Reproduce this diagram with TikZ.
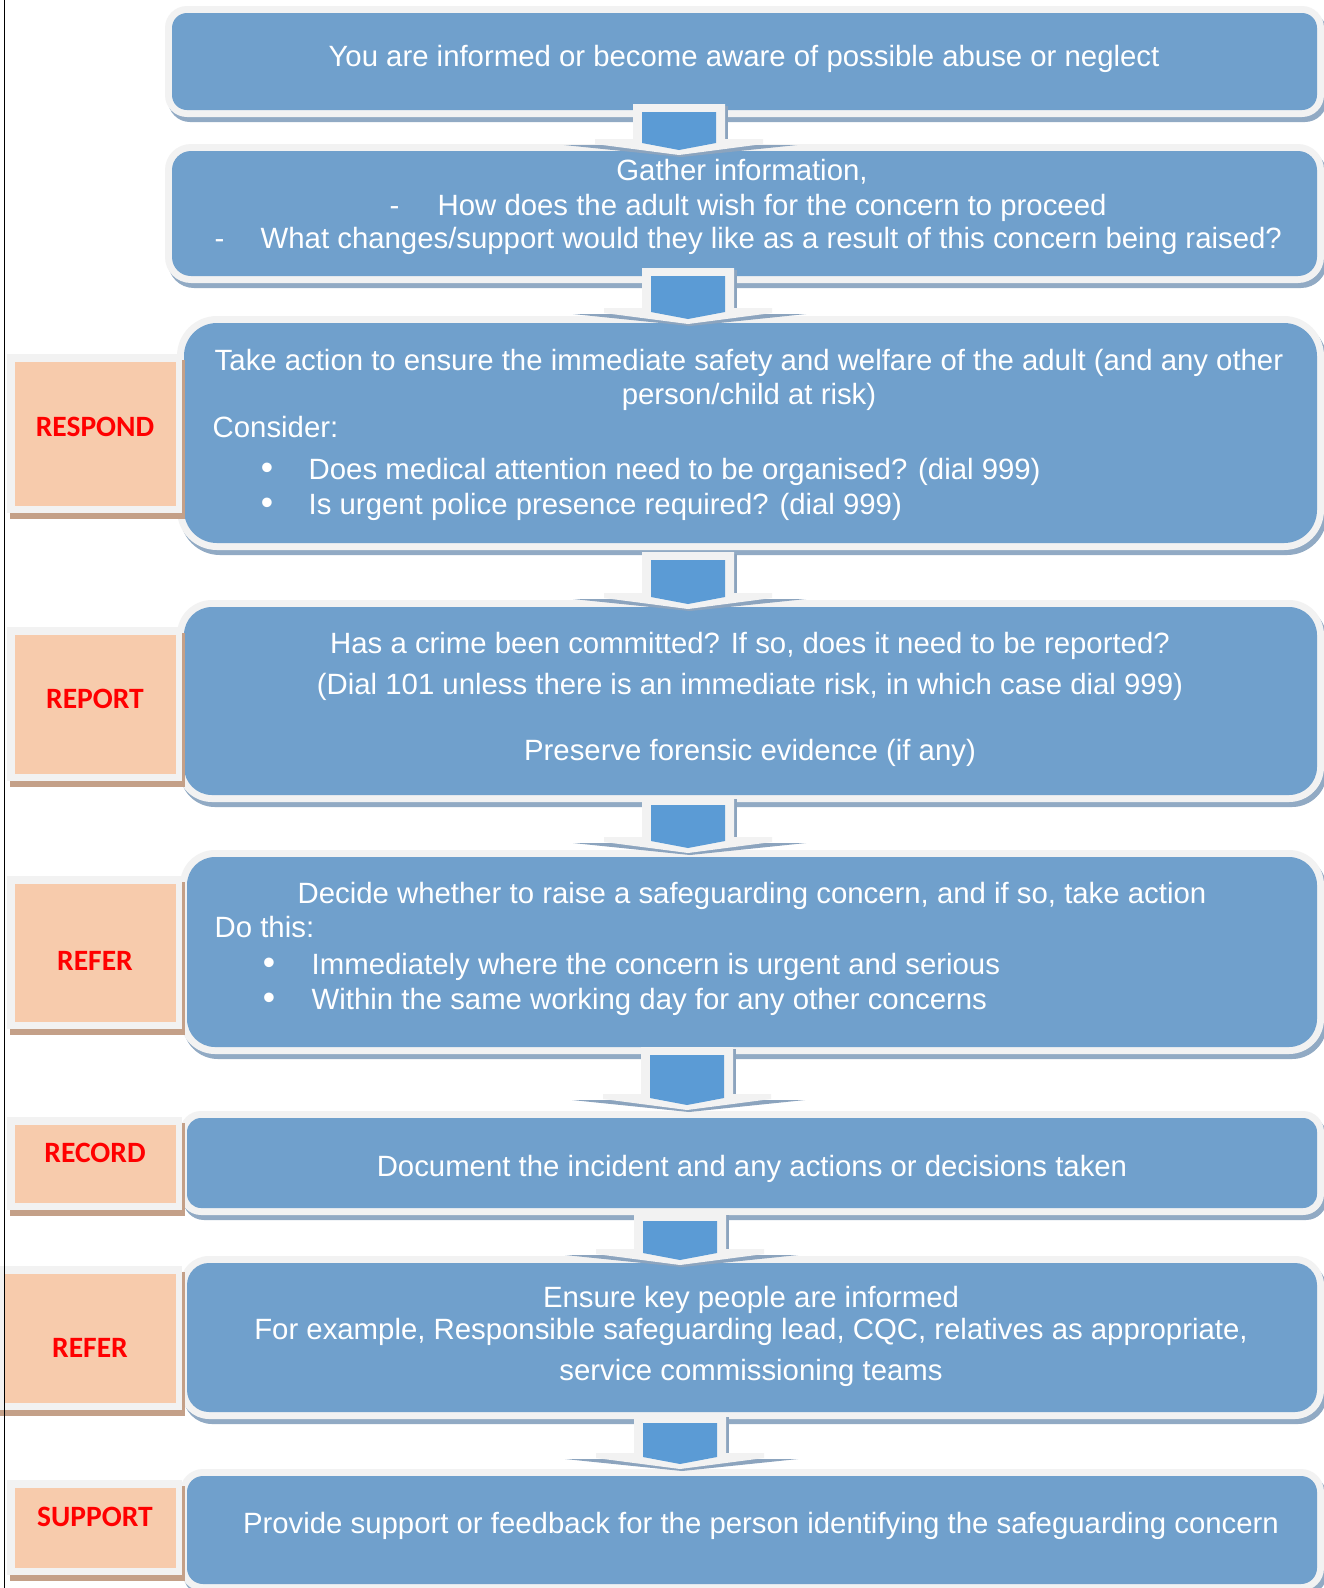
\documentclass[tikz,border=0pt]{standalone}
\usepackage{fontspec}
\setmainfont{Liberation Sans}
\newfontfamily\labelfont{Carlito}
\usepackage{tikz}
\usetikzlibrary{positioning}
\definecolor{BoxBlue}{RGB}{112,160,204}
\definecolor{ArrowBlue}{RGB}{91,155,213}
\definecolor{Rim}{RGB}{242,242,242}
\definecolor{BoxShade}{RGB}{145,170,196}
\definecolor{Peach}{RGB}{247,203,172}
\definecolor{PeachShade}{RGB}{196,160,136}
\definecolor{ArrowShade}{RGB}{140,164,190}
% x1, y1, x2, y2 of the blue face, corner radius (px)
\newcommand{\flowbox}[5]{%
 \fill[BoxShade,rounded corners=(#5+7)*0.1mm] (#1-7+3,#2-7+5) rectangle (#3+7+3,#4+7+5);
 \fill[Rim,rounded corners=(#5+7)*0.1mm] (#1-7,#2-7) rectangle (#3+7,#4+7);
 \fill[BoxBlue,rounded corners=#5*0.1mm] (#1,#2) rectangle (#3,#4);
}
\newcommand{\phaselabel}[4]{%
 \fill[PeachShade] (#1+3,#2+6) rectangle (#3+3,#4+6);
 \fill[Rim] (#1,#2) rectangle (#3,#4);
 \fill[Peach] (#1+8,#2+8) rectangle (#3-6,#4-7);
}
% top of the stem, stem length
\newcommand{\flowarrow}[2]{%
 \begin{scope}[shift={(#1)}]
 \fill[ArrowShade] (-115,#2+6) -- (118,#2+6) -- (2,#2+18) -- cycle;
 \fill[ArrowShade] (46,2) rectangle (49,#2);
 \fill[Rim] (-46,0) -- (46,0) -- (46,#2) -- (84,#2) -- (84,#2+5) -- (0,#2+16) -- (-84,#2+5) -- (-84,#2) -- (-46,#2) -- cycle;
 \fill[ArrowBlue] (-37,8) -- (37,8) -- (37,#2+4) -- (0,#2+11) -- (-37,#2+4) -- cycle;
 \end{scope}}

\begin{document}
\begin{tikzpicture}[
x=0.1mm, y=-0.1mm,
BodyText/.style={text=white,font=\fontsize{8.35}{10}\selectfont,inner sep=0pt,text height=7pt,text depth=1pt},
BulletText/.style={text=white,font=\fontsize{10}{10}\selectfont,inner sep=0pt,text height=7pt,text depth=1pt},
PhaseText/.style={text=red,font=\labelfont\bfseries\fontsize{8.4}{10}\selectfont,inner sep=0pt,text height=5.4pt,text depth=0pt}
]
\useasboundingbox[fill=white] (0,0) rectangle (1324,1588);

\flowbox{172}{13}{1317}{110}{15}
\flowbox{172}{151}{1317}{276}{19}
\flowbox{184}{323}{1317}{543}{33}
\flowbox{184}{607}{1317}{795}{28}
\flowbox{187}{857}{1317}{1047}{28}
\flowbox{187}{1118}{1317}{1208}{14}
\flowbox{187}{1263}{1317}{1412}{22}
\flowbox{187}{1476}{1317}{1584}{16}

\phaselabel{7}{354}{182}{513}
\phaselabel{7}{627}{182}{781}
\phaselabel{7}{876}{182}{1029}
\phaselabel{7}{1117}{182}{1210}
\phaselabel{-3}{1266}{182}{1410}
\phaselabel{7}{1480}{182}{1575}

\coordinate (a1) at (679,104);
\coordinate (a2) at (688,268);
\coordinate (a3) at (688,552);
\coordinate (a4) at (688,797);
\coordinate (a5) at (687,1047);
\coordinate (a6) at (680,1213);
\coordinate (a7) at (680,1415);
\flowarrow{a1}{35}
\flowarrow{a2}{40}
\flowarrow{a3}{41}
\flowarrow{a4}{40}
\flowarrow{a5}{47}
\flowarrow{a6}{36}
\flowarrow{a7}{38}

\node[PhaseText] (respond) at (95,427) {RESPOND};
\node[PhaseText] (report) at (95,699) {REPORT};
\node[PhaseText] (refer) at (95,961) {REFER};
\node[PhaseText] (record) at (95,1153) {RECORD};
\node[PhaseText] (referkey) at (90,1348) {REFER};
\node[PhaseText] (support) at (95,1517) {SUPPORT};

\node[BodyText] (aware) at (744,56) {You are informed or become aware of possible abuse or neglect};

\node[BodyText] (gather) at (742,170) {Gather information,};
\node[BodyText,anchor=west] (dasha) at (389,205) {-};
\node[BodyText,anchor=west] (wish) at (437,205) {How does the adult wish for the concern to proceed};
\node[BodyText,anchor=west] (dashb) at (214,238) {-};
\node[BodyText,anchor=west] (changes) at (260,238) {What changes/support would they like as a result of this concern being raised?};

\node[BodyText] (safety) at (749,360) {Take action to ensure the immediate safety and welfare of the adult (and any other};
\node[BodyText] (risk) at (749,394) {person/child at risk)};
\node[BodyText,anchor=west] (consider) at (212,427) {Consider:};
\node[BulletText] (bulleta) at (267,469) {•};
\node[BodyText,anchor=west] (medical) at (308,469) {Does medical attention need to be organised? (dial 999)};
\node[BulletText] (bulletb) at (267,504) {•};
\node[BodyText,anchor=west] (police) at (308,504) {Is urgent police presence required? (dial 999)};

\node[BodyText] (crime) at (750,643) {Has a crime been committed? If so, does it need to be reported?};
\node[BodyText] (dial) at (750,684) {(Dial 101 unless there is an immediate risk, in which case dial 999)};
\node[BodyText] (forensic) at (750,750) {Preserve forensic evidence (if any)};

\node[BodyText] (decide) at (752,893) {Decide whether to raise a safeguarding concern, and if so, take action};
\node[BodyText,anchor=west] (dothis) at (214,927) {Do this:};
\node[BulletText] (bulletc) at (269,964) {•};
\node[BodyText,anchor=west] (urgent) at (311,964) {Immediately where the concern is urgent and serious};
\node[BulletText] (bulletd) at (269,999) {•};
\node[BodyText,anchor=west] (sameday) at (311,999) {Within the same working day for any other concerns};

\node[BodyText] (document) at (752,1166) {Document the incident and any actions or decisions taken};

\node[BodyText] (ensure) at (751,1297) {Ensure key people are informed};
\node[BodyText] (example) at (751,1329) {For example, Responsible safeguarding lead, CQC, relatives as appropriate,};
\node[BodyText] (teams) at (751,1370) {service commissioning teams};

\node[BodyText] (feedback) at (761,1523) {Provide support or feedback for the person identifying the safeguarding concern};

\draw[line width=0.15mm] (4.5,0) -- (4.5,1588);
\end{tikzpicture}
\end{document}
